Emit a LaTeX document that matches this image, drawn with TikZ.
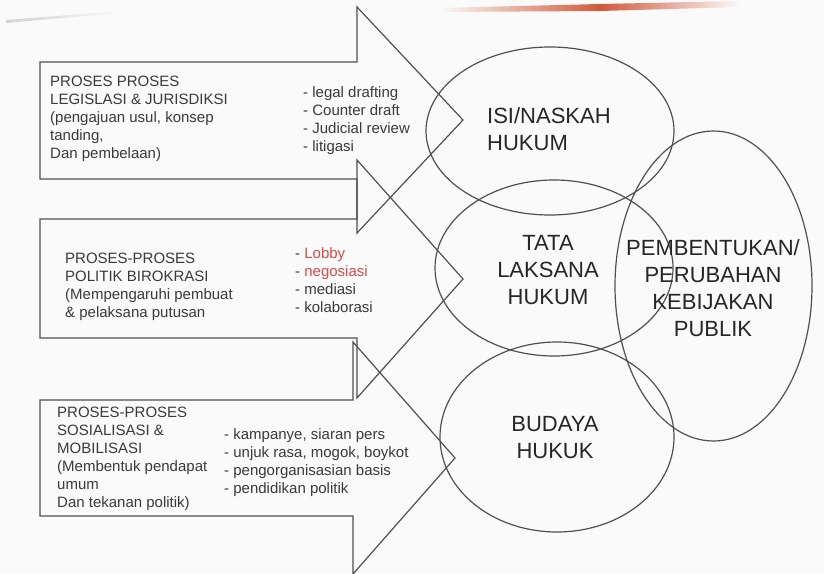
\documentclass[tikz,border=0pt]{standalone}
\usepackage{fontspec}
\setmainfont{Liberation Sans}
\definecolor{ln}{HTML}{505050}
\definecolor{tx}{HTML}{3A3A3A}
\definecolor{bt}{HTML}{262626}
\definecolor{rd}{HTML}{DD4A4A}
\definecolor{bg}{HTML}{FAFAFA}
\definecolor{og}{HTML}{D25A3C}
\begin{document}
\begin{tikzpicture}[x=1pt,y=-1pt,
  shp/.style={draw=ln, line width=1.2pt, line join=miter},
  small/.style={font=\fontsize{15}{18}\selectfont, text=tx, align=left, inner sep=0pt, anchor=north west},
  big/.style={font=\fontsize{22}{27}\selectfont, text=bt, inner sep=0pt}]
\useasboundingbox (0,0) rectangle (824,573);
\fill[bg] (0,0) rectangle (824,573);
% top decoration
\shade[left color=gray!35, right color=bg] (6,20) -- (120,11) -- (120,13) -- (6,23) -- cycle;
\shade[left color=bg, right color=og] (440,8) -- (600,4) -- (600,11) -- (440,12) -- cycle;
\shade[left color=og, right color=bg] (600,4) -- (740,1) -- (740,7) -- (600,11) -- cycle;
% arrows
\draw[shp] (40,62) -- (357,62) -- (357,7) -- (463,120) -- (357,233) -- (357,179) -- (40,179) -- cycle;
\draw[shp] (40,219) -- (357,219) -- (357,160) -- (463,279) -- (357,398) -- (357,338) -- (40,338) -- cycle;
\draw[shp] (40,400) -- (353,400) -- (353,342) -- (455,458) -- (353,574) -- (353,516) -- (40,516) -- cycle;
% ellipses
\coordinate (cisi) at (550,131);
\coordinate (ctata) at (554,268);
\coordinate (cbud) at (557,437);
\coordinate (cpem) at (713.5,286);
\draw[shp] (cisi) ellipse [x radius=124pt, y radius=84pt];
\draw[shp] (ctata) ellipse [x radius=119pt, y radius=88pt];
\draw[shp] (cbud) ellipse [x radius=117pt, y radius=95pt];
\draw[shp] (cpem) ellipse [x radius=98.5pt, y radius=155pt];
% big texts
\node[big, anchor=north west, align=left] (isi) at (487,107) {ISI/NASKAH\\HUKUM};
\node[big, align=center] (tata) at (548,270) {TATA\\LAKSANA\\HUKUM};
\node[big, align=center] (bud) at (555,438) {BUDAYA\\HUKUK};
\node[big, align=center] (pem) at (713,288) {PEMBENTUKAN/\\PERUBAHAN\\KEBIJAKAN\\PUBLIK};
% small texts
\node[small] (t1) at (50,76) {PROSES PROSES\\LEGISLASI \& JURISDIKSI\\(pengajuan usul, konsep\\tanding,\\Dan pembelaan)};
\node[small] (b1) at (303,86) {- legal drafting\\- Counter draft\\- Judicial review\\- litigasi};
\node[small] (t2) at (65,253) {PROSES-PROSES\\POLITIK BIROKRASI\\(Mempengaruhi pembuat\\\& pelaksana putusan};
\node[small] (b2) at (295,247) {- \textcolor{rd}{Lobby}\\- \textcolor{rd}{negosiasi}\\- mediasi\\- kolaborasi};
\node[small] (t3) at (57,407) {PROSES-PROSES\\SOSIALISASI \&\\MOBILISASI\\(Membentuk pendapat\\umum\\Dan tekanan politik)};
\node[small] (b3) at (224,428) {- kampanye, siaran pers\\- unjuk rasa, mogok, boykot\\- pengorganisasian basis\\- pendidikan politik};
\end{tikzpicture}
\end{document}
